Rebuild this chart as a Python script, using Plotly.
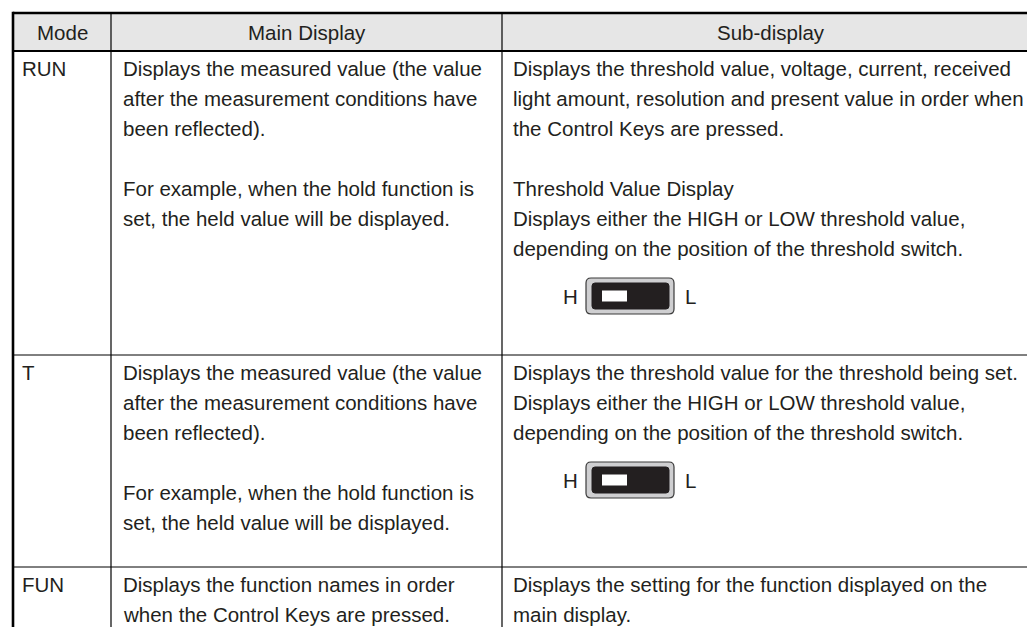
import plotly.graph_objects as go

# ---------------- data ----------------
headers = ["Mode", "Main Display", "Sub-display"]
modes = ["RUN", "T", "FUN"]
main_display = [
    ["Displays the measured value (the value",
     "after the measurement conditions have",
     "been reflected).",
     "",
     "For example, when the hold function is",
     "set, the held value will be displayed."],
    ["Displays the measured value (the value",
     "after the measurement conditions have",
     "been reflected).",
     "",
     "For example, when the hold function is",
     "set, the held value will be displayed."],
    ["Displays the function names in order",
     "when the Control Keys are pressed."],
]
sub_display = [
    ["Displays the threshold value, voltage, current, received",
     "light amount, resolution and present value in order when",
     "the Control Keys are pressed.",
     "",
     "Threshold Value Display",
     "Displays either the HIGH or LOW threshold value,",
     "depending on the position of the threshold switch."],
    ["Displays the threshold value for the threshold being set.",
     "Displays either the HIGH or LOW threshold value,",
     "depending on the position of the threshold switch."],
    ["Displays the setting for the function displayed on the",
     "main display."],
]
has_switch = [True, True, False]
switch_labels = ["H", "L"]

# ---------------- layout constants ----------------
W, H = 1035, 627
col_x = [5, 103, 494, 1032]
top_y = 5
head_bot = 43
row_top = [43, 347, 559]
first_off = 17
line_h = 30
pad = 9
FONT = "Liberation Sans, Arial, sans-serif"
FS = 20.5
TXT = "#231f20"

fig = go.Figure()
fig.add_trace(go.Scatter(x=[0, W], y=[0, H], mode="markers",
                         marker=dict(opacity=0), hoverinfo="skip", showlegend=False))

shapes = []
annotations = []

# header background
shapes.append(dict(type="rect", xref="x", yref="y", x0=col_x[0], x1=col_x[3],
                   y0=top_y, y1=head_bot, fillcolor="#e6e6e6", line=dict(width=0),
                   layer="below"))

# header text
for i, h in enumerate(headers):
    annotations.append(dict(x=(col_x[i] + col_x[i + 1]) / 2, y=24,
                            xref="x", yref="y", text=h, showarrow=False,
                            xanchor="center", yanchor="middle",
                            font=dict(family=FONT, size=FS, color=TXT)))


def add_lines(lines, x, y0):
    for k, t in enumerate(lines):
        if t == "":
            continue
        annotations.append(dict(x=x, y=y0 + first_off + k * line_h, xref="x", yref="y",
                                text=t, showarrow=False, xanchor="left",
                                yanchor="middle",
                                font=dict(family=FONT, size=FS, color=TXT)))


def rrect(x0, y0, x1, y1, r):
    return (f"M {x0+r},{y0} L {x1-r},{y0} Q {x1},{y0} {x1},{y0+r} "
            f"L {x1},{y1-r} Q {x1},{y1} {x1-r},{y1} L {x0+r},{y1} "
            f"Q {x0},{y1} {x0},{y1-r} L {x0},{y0+r} Q {x0},{y0} {x0+r},{y0} Z")


for r, m in enumerate(modes):
    y0 = row_top[r]
    add_lines([m], col_x[0] + 7, y0)
    add_lines(main_display[r], col_x[1] + pad + 1, y0)
    add_lines(sub_display[r], col_x[2] + pad, y0)
    if has_switch[r]:
        last = len(sub_display[r]) - 1
        cy = y0 + first_off + last * line_h + 48
        sx = 578
        shapes.append(dict(type="path", xref="x", yref="y",
                           path=rrect(sx, cy - 18, sx + 88, cy + 18, 5),
                           fillcolor="#cfcfd1", line=dict(color="#3a3a3a", width=1.2)))
        shapes.append(dict(type="path", xref="x", yref="y",
                           path=rrect(sx + 6, cy - 13, sx + 83, cy + 13, 3),
                           fillcolor="#231f20", line=dict(color="#231f20", width=1)))
        shapes.append(dict(type="rect", xref="x", yref="y",
                           x0=sx + 16, x1=sx + 41, y0=cy - 5.5, y1=cy + 5.5,
                           fillcolor="white", line=dict(width=0)))
        annotations.append(dict(x=sx - 16, y=cy, xref="x", yref="y", text=switch_labels[0],
                                showarrow=False, xanchor="center", yanchor="middle",
                                font=dict(family=FONT, size=FS, color=TXT)))
        annotations.append(dict(x=sx + 104, y=cy, xref="x", yref="y", text=switch_labels[1],
                                showarrow=False, xanchor="center", yanchor="middle",
                                font=dict(family=FONT, size=FS, color=TXT)))

# grid lines
for yy in row_top[1:]:
    shapes.append(dict(type="line", xref="x", yref="y", x0=col_x[0], x1=col_x[3],
                       y0=yy, y1=yy, line=dict(color="black", width=1)))
for xx in col_x[1:3]:
    shapes.append(dict(type="line", xref="x", yref="y", x0=xx, x1=xx,
                       y0=top_y, y1=H + 5, line=dict(color="black", width=1.2)))
# header bottom (thick)
shapes.append(dict(type="line", xref="x", yref="y", x0=col_x[0], x1=col_x[3],
                   y0=head_bot, y1=head_bot, line=dict(color="black", width=2.2)))
# outer border
shapes.append(dict(type="line", xref="x", yref="y", x0=col_x[0], x1=col_x[3],
                   y0=top_y, y1=top_y, line=dict(color="black", width=2.6)))
for xx in (col_x[0], col_x[3]):
    shapes.append(dict(type="line", xref="x", yref="y", x0=xx, x1=xx,
                       y0=top_y - 1.3, y1=H + 5, line=dict(color="black", width=2.6)))

fig.update_layout(
    width=W, height=H, margin=dict(l=0, r=0, t=0, b=0),
    paper_bgcolor="white", plot_bgcolor="white",
    xaxis=dict(range=[0, W], visible=False, fixedrange=True),
    yaxis=dict(range=[H, 0], visible=False, fixedrange=True),
    shapes=shapes, annotations=annotations, showlegend=False,
)

fig.write_html("out.html", config={"displayModeBar": False})
